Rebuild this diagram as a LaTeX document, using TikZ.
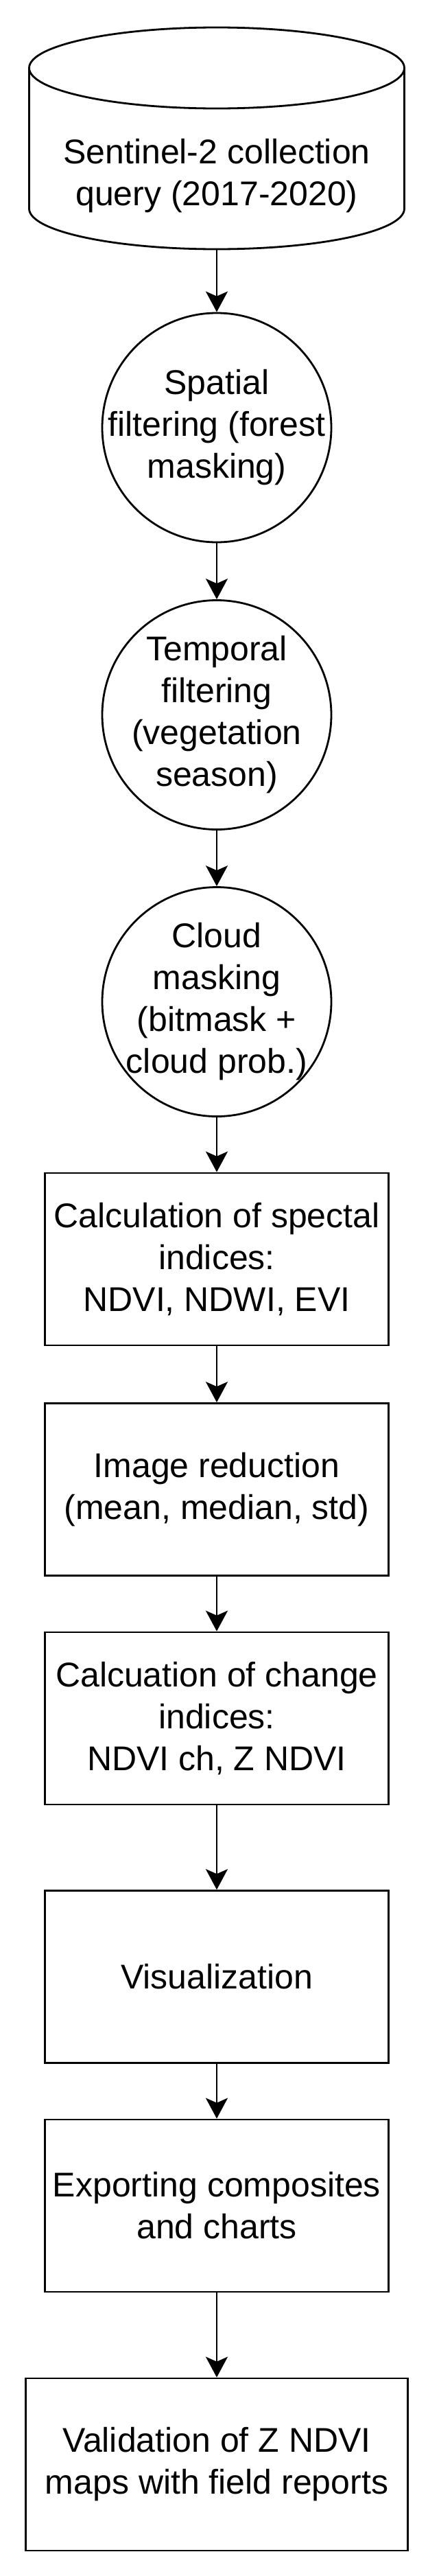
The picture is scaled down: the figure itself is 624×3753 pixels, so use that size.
\documentclass[tikz,border=0pt]{standalone}
\usepackage{fontspec}
\setmainfont{Liberation Sans}
\usetikzlibrary{arrows.meta,shapes.geometric}
\begin{document}
\begin{tikzpicture}[x=0.5pt,y=-0.5pt,
  lbl/.style={font=\fontsize{25}{30.5}\selectfont, align=center, text=black, inner sep=0pt},
  shapeline/.style={draw=black, line width=1.4pt},
  stepbox/.style={shapeline, rectangle, fill=white, minimum width=250.5pt, minimum height=125.5pt, inner sep=0pt, lbl},
  widebox/.style={stepbox, minimum width=278.5pt},
  circ/.style={shapeline, circle, fill=white, minimum size=167pt, inner sep=0pt},
  conn/.style={draw=black, line width=1.4pt, -{Stealth[length=15pt, width=16pt, inset=3.5pt]}}
]
\useasboundingbox (0,0) rectangle (624,3753);
\fill[white] (0,0) rectangle (624,3753);

% cylinder (database)
\node (cyl) [minimum width=273.5pt, minimum height=161.5pt, inner sep=0pt] at (316,201.5) {};
\fill[white] (42.5,99) -- (42.5,304) arc[start angle=180, end angle=0, x radius=273.5, y radius=59] -- (589.5,99) -- cycle;
\draw[shapeline] (42.5,99) -- (42.5,304) arc[start angle=180, end angle=0, x radius=273.5, y radius=59] -- (589.5,99);
\draw[shapeline, fill=white] (316,99) ellipse[x radius=273.5, y radius=59];
\node[lbl] (cyltxt) at (316,256) {Sentinel-2 collection\\query (2017-2020)};

% circles
\node (c1) [circ] at (316,623) {};
\node[lbl] (c1txt) at (c1) {Spatial\\filtering (forest\\masking)};
\node (c2) [circ] at (316,1041.5) {};
\node[lbl] (c2txt) at (c2) {Temporal\\filtering\\(vegetation\\season)};
\node (c3) [circ] at (316,1459.5) {};
\node[lbl] (c3txt) at (c3) {Cloud\\masking\\(bitmask +\\cloud prob.)};

% boxes
\node (r1) [stepbox] at (316,1834.5) {Calculation of spectal\\indices:\\NDVI, NDWI, EVI};
\node (r2) [stepbox] at (316,2170) {Image reduction\\(mean, median, std)};
\node (r3) [stepbox] at (316,2503.5) {Calcuation of change\\indices:\\NDVI ch, Z NDVI};
\node (r4) [stepbox] at (316,2880) {Visualization};
\node (r5) [stepbox] at (316,3213.5) {Exporting composites\\and charts};
\node (r6) [widebox] at (316,3590.5) {Validation of Z NDVI\\maps with field reports};

% connectors
\draw[conn] (cyl.south) -- (c1.north);
\draw[conn] (c1.south) -- (c2.north);
\draw[conn] (c2.south) -- (c3.north);
\draw[conn] (c3.south) -- (r1.north);
\draw[conn] (r1.south) -- (r2.north);
\draw[conn] (r2.south) -- (r3.north);
\draw[conn] (r3.south) -- (r4.north);
\draw[conn] (r4.south) -- (r5.north);
\draw[conn] (r5.south) -- (r6.north);
\end{tikzpicture}
\end{document}
